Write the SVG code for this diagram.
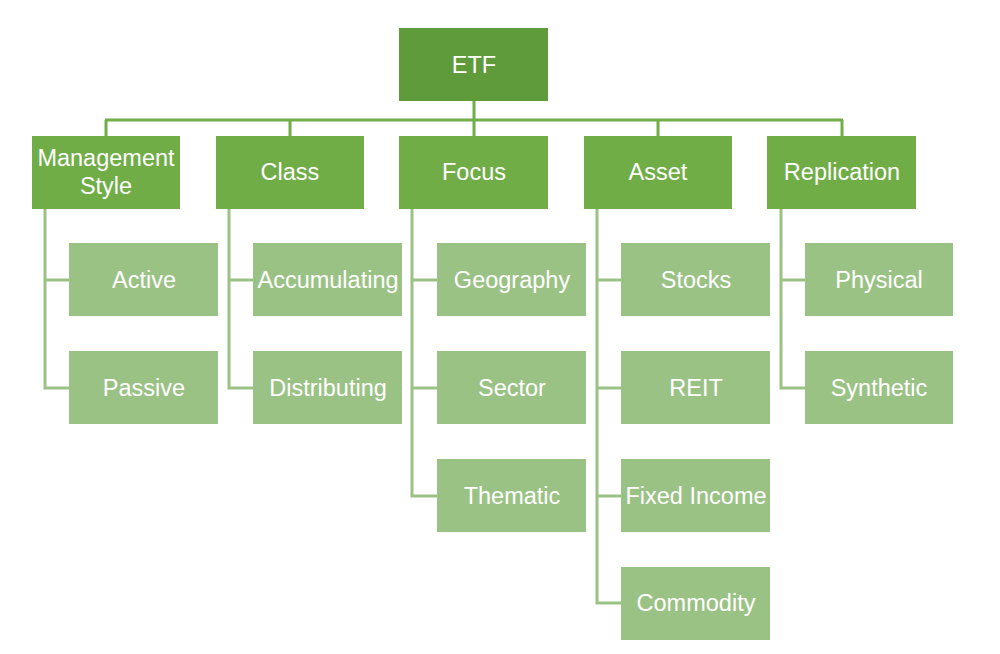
<svg xmlns="http://www.w3.org/2000/svg" width="1000" height="654" viewBox="0 0 1000 654">
<style>
text{font-family:"Liberation Sans",Arial,sans-serif;font-size:23.5px;fill:#fff;text-anchor:middle;dominant-baseline:central}
.root{fill:#5f9a3b}
.l1{fill:#70ad47}
.leaf{fill:#9bc285}
.c1{stroke:#70ad47;stroke-width:3;fill:none}
.c2{stroke:#9bc285;stroke-width:3;fill:none}
</style>
<rect width="1000" height="654" fill="#fff"/>
<g id="connectors">
<path class="c1" d="M474 101V136M105 120H843M106 120V136M290 120V136M658 120V136M842 120V136"/>
<path class="c2" d="M45 209V388H69M45 280H69"/>
<path class="c2" d="M229 209V388H253M229 280H253"/>
<path class="c2" d="M412 209V496H437M412 280H437M412 388H437"/>
<path class="c2" d="M597 209V603H621M597 280H621M597 388H621M597 496H621"/>
<path class="c2" d="M781 209V388H805M781 280H805"/>
</g>
<g id="etf"><rect class="root" x="399" y="28" width="149" height="73"/><text x="474" y="65">ETF</text></g>
<g id="management"><rect class="l1" x="32" y="136" width="148" height="73"/><text x="106" y="158">Management</text><text x="106" y="186">Style</text></g>
<g id="class"><rect class="l1" x="216" y="136" width="148" height="73"/><text x="290" y="172">Class</text></g>
<g id="focus"><rect class="l1" x="399" y="136" width="149" height="73"/><text x="474" y="172">Focus</text></g>
<g id="asset"><rect class="l1" x="584" y="136" width="148" height="73"/><text x="658" y="172">Asset</text></g>
<g id="replication"><rect class="l1" x="767" y="136" width="149" height="73"/><text x="842" y="172">Replication</text></g>
<g id="active"><rect class="leaf" x="69" y="243" width="149" height="73"/><text x="144" y="280">Active</text></g>
<g id="passive"><rect class="leaf" x="69" y="351" width="149" height="73"/><text x="144" y="388">Passive</text></g>
<g id="accumulating"><rect class="leaf" x="253" y="243" width="149" height="73"/><text x="328" y="280">Accumulating</text></g>
<g id="distributing"><rect class="leaf" x="253" y="351" width="149" height="73"/><text x="328" y="388">Distributing</text></g>
<g id="geography"><rect class="leaf" x="437" y="243" width="149" height="73"/><text x="512" y="280">Geography</text></g>
<g id="sector"><rect class="leaf" x="437" y="351" width="149" height="73"/><text x="512" y="388">Sector</text></g>
<g id="thematic"><rect class="leaf" x="437" y="459" width="149" height="73"/><text x="512" y="496">Thematic</text></g>
<g id="stocks"><rect class="leaf" x="621" y="243" width="149" height="73"/><text x="696" y="280">Stocks</text></g>
<g id="reit"><rect class="leaf" x="621" y="351" width="149" height="73"/><text x="696" y="388">REIT</text></g>
<g id="fixedincome"><rect class="leaf" x="621" y="459" width="149" height="73"/><text x="696" y="496">Fixed Income</text></g>
<g id="commodity"><rect class="leaf" x="621" y="567" width="149" height="73"/><text x="696" y="603">Commodity</text></g>
<g id="physical"><rect class="leaf" x="805" y="243" width="148" height="73"/><text x="879" y="280">Physical</text></g>
<g id="synthetic"><rect class="leaf" x="805" y="351" width="148" height="73"/><text x="879" y="388">Synthetic</text></g>
</svg>
